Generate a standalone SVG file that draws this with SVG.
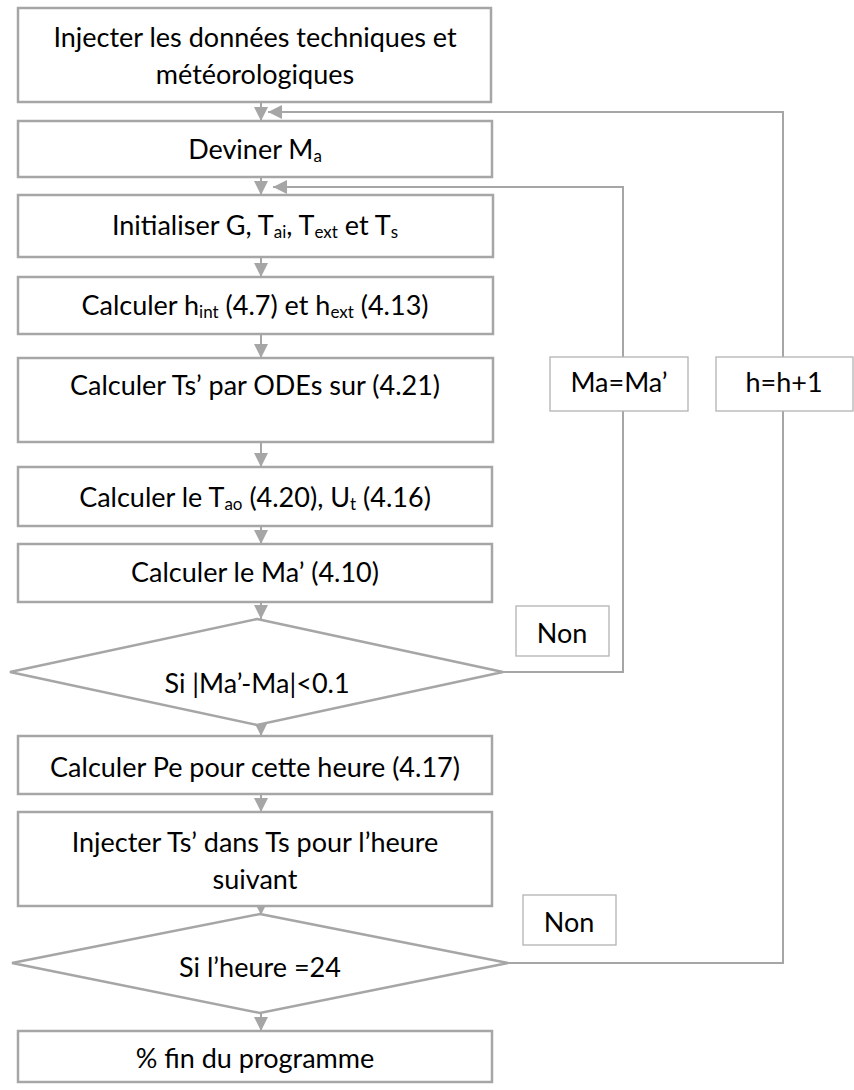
<svg xmlns="http://www.w3.org/2000/svg" width="854" height="1090" viewBox="0 0 854 1090">
<style>
.box{fill:#fff;stroke:#a6a6a6;stroke-width:2.5}
.lbl{fill:#fff;stroke:#b3b3b3;stroke-width:1.3}
.con{fill:none;stroke:#a6a6a6;stroke-width:2}
.t{font-family:Lato,"Liberation Sans",sans-serif;font-size:27px;fill:#000;text-anchor:middle}
.s{font-size:17px}
</style>
<defs>
<marker id="ah" markerUnits="userSpaceOnUse" markerWidth="14" markerHeight="14" viewBox="0 0 14 14" refX="14" refY="7" orient="auto">
<path d="M0,0 L14,7 L0,14 z" fill="#a6a6a6"/>
</marker>
</defs>
<rect width="854" height="1090" fill="#fff"/>
<g id="connectors">
<line class="con" x1="261" y1="102" x2="261" y2="121" marker-end="url(#ah)"/>
<line class="con" x1="261" y1="177" x2="261" y2="195" marker-end="url(#ah)"/>
<line class="con" x1="261" y1="257" x2="261" y2="277" marker-end="url(#ah)"/>
<line class="con" x1="261" y1="334" x2="261" y2="358" marker-end="url(#ah)"/>
<line class="con" x1="261" y1="442" x2="261" y2="467" marker-end="url(#ah)"/>
<line class="con" x1="261" y1="526" x2="261" y2="544" marker-end="url(#ah)"/>
<line class="con" x1="261" y1="602" x2="261" y2="619" marker-end="url(#ah)"/>
<line class="con" x1="261" y1="722" x2="261" y2="736" marker-end="url(#ah)"/>
<line class="con" x1="261" y1="794" x2="261" y2="812" marker-end="url(#ah)"/>
<line class="con" x1="261" y1="900" x2="261" y2="915" marker-end="url(#ah)"/>
<line class="con" x1="261" y1="1010" x2="261" y2="1031" marker-end="url(#ah)"/>
<path class="con" d="M503,672 H623 V411"/>
<path class="con" d="M623,357 V187 H273" marker-end="url(#ah)"/>
<path class="con" d="M508,963 H783 V411"/>
<path class="con" d="M783,357 V112 H268" marker-end="url(#ah)"/>
</g>
<g id="n1"><rect class="box" x="18" y="8" width="473" height="94"/>
<text class="t" x="255" y="47">Injecter les données techniques et</text>
<text class="t" x="255" y="84">météorologiques</text></g>
<g id="n2"><rect class="box" x="18" y="121" width="474" height="56"/>
<text class="t" x="255" y="159">Deviner M<tspan class="s" dy="3">a</tspan></text></g>
<g id="n3"><rect class="box" x="18" y="195" width="475" height="62"/>
<text class="t" x="255" y="235">Initialiser G, T<tspan class="s" dy="3">ai</tspan><tspan dy="-3">, T</tspan><tspan class="s" dy="3">ext</tspan><tspan dy="-3"> et T</tspan><tspan class="s" dy="3">s</tspan></text></g>
<g id="n4"><rect class="box" x="18" y="277" width="475" height="57"/>
<text class="t" x="255" y="315">Calculer h<tspan class="s" dy="3">int</tspan><tspan dy="-3"> (4.7) et h</tspan><tspan class="s" dy="3">ext</tspan><tspan dy="-3"> (4.13)</tspan></text></g>
<g id="n5"><rect class="box" x="18" y="358" width="475" height="84"/>
<text class="t" x="255" y="395">Calculer Ts’ par ODEs sur (4.21)</text></g>
<g id="n6"><rect class="box" x="18" y="467" width="474" height="59"/>
<text class="t" x="255" y="507">Calculer le T<tspan class="s" dy="3">ao</tspan><tspan dy="-3"> (4.20), U</tspan><tspan class="s" dy="3">t</tspan><tspan dy="-3"> (4.16)</tspan></text></g>
<g id="n7"><rect class="box" x="18" y="544" width="474" height="58"/>
<text class="t" x="255" y="582">Calculer le Ma’ (4.10)</text></g>
<g id="n8"><polygon class="box" points="257,619 503,672 257,725 10,672"/>
<text class="t" x="257" y="693">Si |Ma’-Ma|&lt;0.1</text></g>
<g id="n9"><rect class="box" x="18" y="736" width="474" height="58"/>
<text class="t" x="255" y="777">Calculer Pe pour cette heure (4.17)</text></g>
<g id="n10"><rect class="box" x="18" y="812" width="474" height="94"/>
<text class="t" x="255" y="852">Injecter Ts’ dans Ts pour l’heure</text>
<text class="t" x="255" y="889">suivant</text></g>
<g id="n11"><polygon class="box" points="260,914 508,963 260,1013 12,963"/>
<text class="t" x="260" y="977">Si l’heure =24</text></g>
<g id="n12"><rect class="box" x="18" y="1031" width="474" height="51"/>
<text class="t" x="255" y="1068">% fin du programme</text></g>
<g id="l1"><rect class="lbl" x="550" y="357" width="138" height="54"/>
<text class="t" x="619" y="392">Ma=Ma’</text></g>
<g id="l2"><rect class="lbl" x="716" y="357" width="137" height="54"/>
<text class="t" x="784" y="392">h=h+1</text></g>
<g id="l3"><rect class="lbl" x="516" y="606" width="93" height="50"/>
<text class="t" x="562" y="643">Non</text></g>
<g id="l4"><rect class="lbl" x="523" y="895" width="93" height="50"/>
<text class="t" x="569" y="932">Non</text></g>
</svg>
